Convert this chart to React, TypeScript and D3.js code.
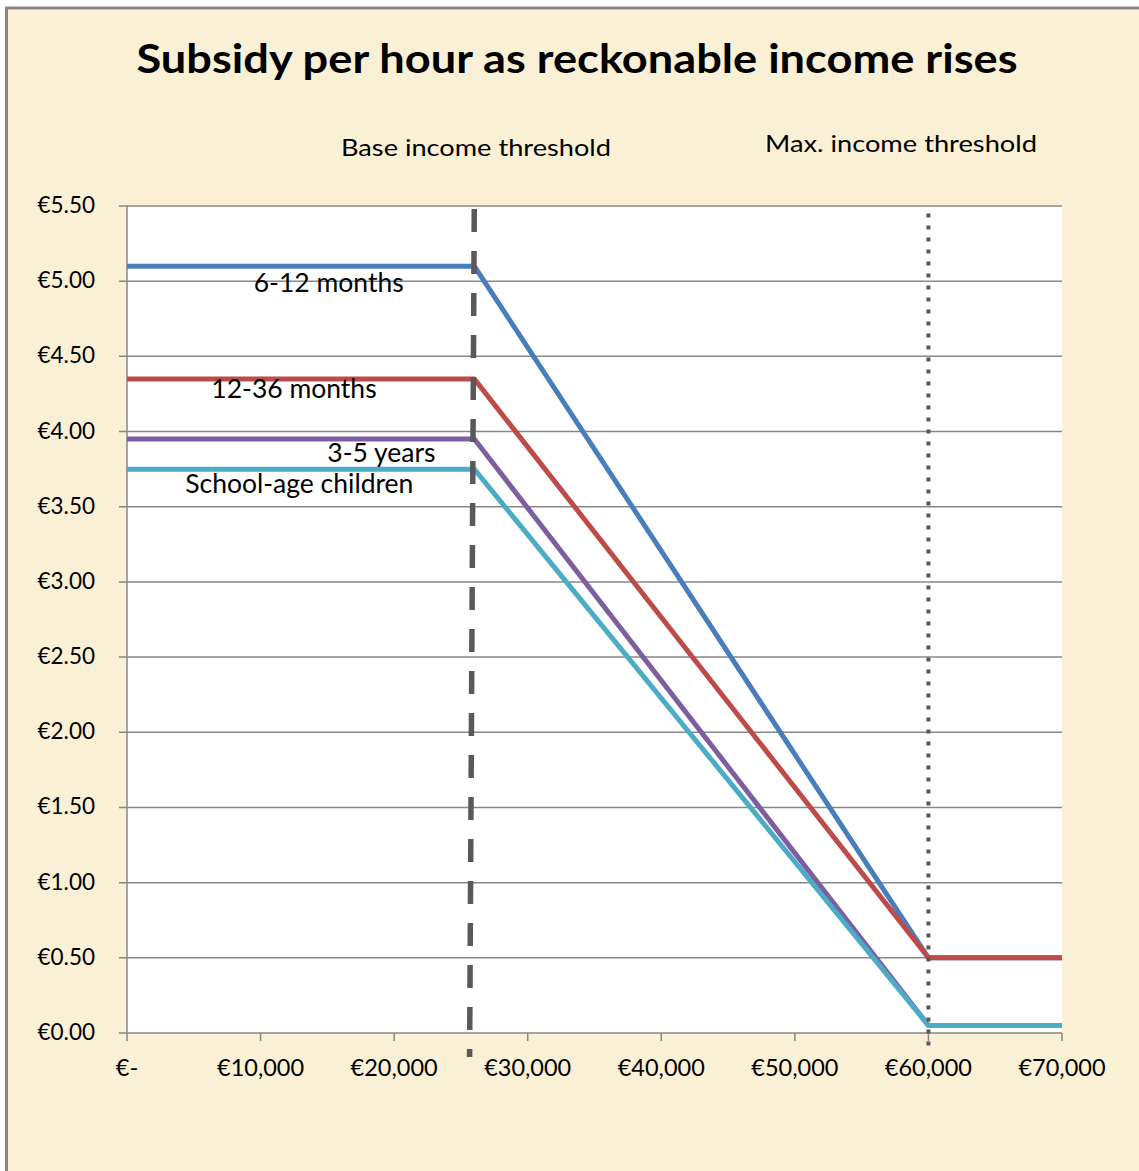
import React from 'react';
import * as d3 from 'd3';

const incomes = [0, 26000, 60000, 70000];
const seriesNames = ['6-12 months', '12-36 months', '3-5 years', 'School-age children'];
const seriesColors = ['#4A7EBB', '#BE4B48', '#7D5FA0', '#4BACC6'];
const infantValues = [5.1, 5.1, 0.5, 0.5];
const toddlerValues = [4.35, 4.35, 0.5, 0.5];
const preschoolValues = [3.95, 3.95, 0.05, 0.05];
const schoolValues = [3.75, 3.75, 0.05, 0.05];
const xTicks = [0, 10000, 20000, 30000, 40000, 50000, 60000, 70000];
const yTicks = [0, 0.5, 1, 1.5, 2, 2.5, 3, 3.5, 4, 4.5, 5, 5.5];

// threshold markers (x at top, x at bottom, y top, y bottom)
const baseThreshold = { xTop: 26000, xBottom: 25650, yTop: 5.5, yBottom: -0.16 };
const maxThreshold = { xTop: 60000, xBottom: 60000, yTop: 5.45, yBottom: -0.09 };

// label anchor points in data units (text baseline)
const labelPoints = [
  { x: 15100, y: 4.928 },
  { x: 12500, y: 4.223 },
  { x: 19050, y: 3.797 },
  { x: 12900, y: 3.591 },
];

const FONT = 'Lato, "Open Sans", sans-serif';

export default function App() {
  const width = 1139;
  const height = 1171;
  const left = 127, right = 1062, top = 206, bottom = 1033;

  const x = d3.scaleLinear().domain([0, 70000]).range([left, right]);
  const y = d3.scaleLinear().domain([0, 5.5]).range([bottom, top]);

  const line = d3.line<[number, number]>()
    .x(d => x(d[0]))
    .y(d => y(d[1]));

  const allSeries = [infantValues, toddlerValues, preschoolValues, schoolValues];

  const xFmt = (d: number) => (d === 0 ? '€-' : '€' + d3.format(',')(d));
  const yFmt = (d: number) => '€' + d.toFixed(2);

  return (
    <svg width={width} height={height} style={{ position: 'absolute', left: 0, top: 0 }}>
      <rect x={0} y={0} width={width} height={height} fill="#ffffff" />
      <rect x={6.5} y={8} width={width + 10} height={height + 10} fill="#FAF0D5" stroke="#878787" strokeWidth={3} />

      <text x={577} y={73} textAnchor="middle" fontFamily={FONT} fontWeight="bold" fontSize={40}
        textLength={881} lengthAdjust="spacingAndGlyphs" fill="#000">
        Subsidy per hour as reckonable income rises
      </text>

      <text x={476} y={156} textAnchor="middle" fontFamily={FONT} fontSize={23}
        textLength={270} lengthAdjust="spacingAndGlyphs">Base income threshold</text>
      <text x={901} y={152} textAnchor="middle" fontFamily={FONT} fontSize={23}
        textLength={272} lengthAdjust="spacingAndGlyphs">Max. income threshold</text>

      <rect x={left} y={top} width={right - left} height={bottom - top} fill="#ffffff" />

      {yTicks.map(t => (
        <g key={t}>
          <line x1={left - 8} x2={right} y1={y(t)} y2={y(t)} stroke="#878787" strokeWidth={1.5} />
          <text x={95} y={y(t) + 7} textAnchor="end" fontFamily={FONT} fontSize={22.5}>{yFmt(t)}</text>
        </g>
      ))}
      <line x1={left} x2={left} y1={top} y2={bottom} stroke="#878787" strokeWidth={1.5} />

      {xTicks.map(t => (
        <g key={t}>
          <line x1={x(t)} x2={x(t)} y1={bottom} y2={bottom + 8} stroke="#878787" strokeWidth={1.5} />
          <text x={x(t)} y={1076} textAnchor="middle" fontFamily={FONT} fontSize={23.5}>{xFmt(t)}</text>
        </g>
      ))}

      {allSeries.map((vals, i) => (
        <path key={seriesNames[i]}
          d={line(incomes.map((inc, j) => [inc, vals[j]] as [number, number])) || ''}
          fill="none" stroke={seriesColors[i]} strokeWidth={5} strokeLinejoin="round" />
      ))}

      <line x1={x(baseThreshold.xTop)} x2={x(baseThreshold.xBottom)}
        y1={y(baseThreshold.yTop)} y2={y(baseThreshold.yBottom)}
        stroke="#595959" strokeWidth={5.5} strokeDasharray="23 19" strokeDashoffset={-3} />
      <line x1={x(maxThreshold.xTop)} x2={x(maxThreshold.xBottom)}
        y1={y(maxThreshold.yTop)} y2={y(maxThreshold.yBottom)}
        stroke="#595959" strokeWidth={4} strokeDasharray="4 8" />

      {seriesNames.map((name, i) => (
        <text key={name} x={x(labelPoints[i].x)} y={y(labelPoints[i].y)} textAnchor="middle"
          fontFamily={FONT} fontSize={26.5}>{name}</text>
      ))}
    </svg>
  );
}
